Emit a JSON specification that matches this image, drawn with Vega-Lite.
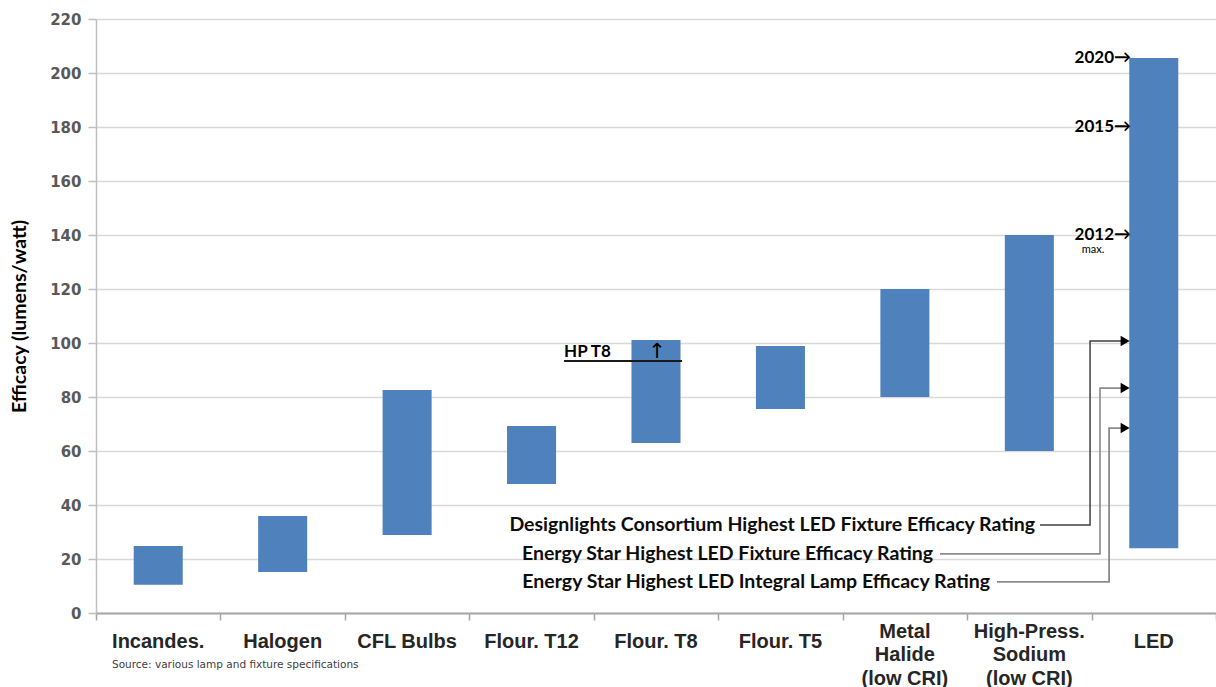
{
  "$schema": "https://vega.github.io/schema/vega-lite/v6.json",
  "width": 1120,
  "height": 594,
  "autosize": "none",
  "padding": {"left": 96, "top": 19, "right": 0, "bottom": 74},
  "background": "white",
  "config": {"view": {"stroke": null}},
  "title": {
    "text": "Source: various lamp and fixture specifications",
    "orient": "bottom",
    "anchor": "start",
    "frame": "group",
    "offset": -28,
    "dx": 16,
    "font": "DejaVu Sans",
    "fontSize": 10.5,
    "fontWeight": "normal",
    "color": "#404040"
  },
  "datasets": {
    "bars": [
      {"lamp": "Incandes.", "low": 10.5, "high": 24.8},
      {"lamp": "Halogen", "low": 15.2, "high": 35.9},
      {"lamp": "CFL Bulbs", "low": 28.9, "high": 82.6},
      {"lamp": "Flour. T12", "low": 47.8, "high": 69.3},
      {"lamp": "Flour. T8", "low": 63, "high": 101.1},
      {"lamp": "Flour. T5", "low": 75.6, "high": 98.9},
      {"lamp": "Metal Halide (low CRI)", "low": 80, "high": 120},
      {"lamp": "High-Press. Sodium (low CRI)", "low": 60, "high": 140},
      {"lamp": "LED", "low": 24, "high": 205.6}
    ],
    "connectors": [
      {"id": "dl", "seq": 1, "x": 7.586, "y": 32.6},
      {"id": "dl", "seq": 2, "x": 7.988, "y": 32.6},
      {"id": "dl", "seq": 3, "x": 7.988, "y": 100.7},
      {"id": "dl", "seq": 4, "x": 8.25, "y": 100.7},
      {"id": "esf", "seq": 1, "x": 6.782, "y": 21.9},
      {"id": "esf", "seq": 2, "x": 8.068, "y": 21.9},
      {"id": "esf", "seq": 3, "x": 8.068, "y": 83.3},
      {"id": "esf", "seq": 4, "x": 8.25, "y": 83.3},
      {"id": "esi", "seq": 1, "x": 7.24, "y": 11.5},
      {"id": "esi", "seq": 2, "x": 8.141, "y": 11.5},
      {"id": "esi", "seq": 3, "x": 8.141, "y": 68.5},
      {"id": "esi", "seq": 4, "x": 8.25, "y": 68.5},
      {"id": "hp", "seq": 1, "x": 3.761, "y": 93.3},
      {"id": "hp", "seq": 2, "x": 4.709, "y": 93.3}
    ],
    "heads": [
      {"x": 8.27, "y": 100.7},
      {"x": 8.27, "y": 83.3},
      {"x": 8.27, "y": 68.5}
    ],
    "notes": [
      {"t": "Designlights Consortium Highest LED Fixture Efficacy Rating", "x": 7.546, "y": 32.6},
      {"t": "Energy Star Highest LED Fixture Efficacy Rating", "x": 6.726, "y": 21.9},
      {"t": "Energy Star Highest LED Integral Lamp Efficacy Rating", "x": 7.184, "y": 11.5}
    ],
    "years": [
      {"t": "2020→", "x": 8.317, "y": 205.6},
      {"t": "2015→", "x": 8.317, "y": 180},
      {"t": "2012→", "x": 8.317, "y": 140}
    ],
    "small": [
      {"t": "max.", "x": 8.012, "y": 134.4}
    ],
    "hplabel": [
      {"t": "HP T8", "x": 3.761, "y": 93.3}
    ],
    "uparrow": [
      {"t": "↑", "x": 4.508, "y": 96.5}
    ]
  },
  "layer": [
    {
      "data": {"name": "bars"},
      "mark": {"type": "bar", "color": "#4f81bd"},
      "encoding": {
        "x": {
          "field": "lamp",
          "type": "nominal",
          "sort": null,
          "scale": {"paddingInner": 0.606, "paddingOuter": 0.303},
          "axis": {
            "orient": "bottom",
            "title": null,
            "ticks": false,
            "tickSize": 0,
            "domain": false,
            "grid": false,
            "labelAngle": 0,
            "labelPadding": {"condition": {"test": "datum.value == 'Metal Halide (low CRI)' || datum.value == 'High-Press. Sodium (low CRI)'", "value": 18}, "value": 28},
            "labelBaseline": "middle",
            "labelFont": "Liberation Sans",
            "labelFontSize": 20,
            "labelFontWeight": "bold",
            "labelColor": "#262626",
            "labelLineHeight": 23.5,
            "labelLimit": 200,
            "labelExpr": "datum.label == 'Metal Halide (low CRI)' ? ['Metal', 'Halide', '(low CRI)'] : datum.label == 'High-Press. Sodium (low CRI)' ? ['High-Press.', 'Sodium', '(low CRI)'] : datum.label"
          }
        },
        "y": {
          "field": "low",
          "type": "quantitative",
          "scale": {"domain": [0, 220], "nice": false},
          "axis": {
            "title": "Efficacy (lumens/watt)",
            "titleFont": "Lato",
            "titleFontSize": 19.5,
            "titleFontWeight": "bold",
            "titleColor": "#000000",
            "titlePadding": 20,
            "values": [0, 20, 40, 60, 80, 100, 120, 140, 160, 180, 200, 220],
            "grid": true,
            "gridColor": "#d9d9d9",
            "gridWidth": 1.5,
            "domainColor": "#bfbfbf",
            "domainWidth": 1.5,
            "tickColor": "#bfbfbf",
            "tickSize": 8,
            "tickWidth": 1.5,
            "labelPadding": 7,
            "labelFont": "DejaVu Sans",
            "labelFontSize": 15,
            "labelFontWeight": "bold",
            "labelColor": "#595959"
          }
        },
        "y2": {"field": "high"}
      }
    },
    {
      "layer": [
        {
          "data": {"name": "connectors"},
          "mark": {"type": "line", "interpolate": "linear"},
          "encoding": {
            "x": {
              "field": "x",
              "type": "quantitative",
              "scale": {"domain": [0, 9], "nice": false, "zero": false},
              "axis": {
                "orient": "bottom",
                "title": null,
                "values": [0, 1, 2, 3, 4, 5, 6, 7, 8, 9],
                "labels": false,
                "grid": false,
                "ticks": true,
                "tickSize": 7,
                "tickWidth": 1.5,
                "tickColor": "#a6a6a6",
                "domain": true,
                "domainColor": "#a6a6a6",
                "domainWidth": 2
              }
            },
            "y": {"field": "y", "type": "quantitative"},
            "order": {"field": "seq"},
            "color": {
              "field": "id",
              "type": "nominal",
              "scale": {"domain": ["dl", "esf", "esi", "hp"], "range": ["#404040", "#8c8c8c", "#8c8c8c", "#1a1a1a"]},
              "legend": null
            },
            "strokeWidth": {
              "field": "id",
              "type": "nominal",
              "scale": {"domain": ["dl", "esf", "esi", "hp"], "range": [1.5, 2, 2, 2]},
              "legend": null
            }
          }
        },
        {
          "data": {"name": "heads"},
          "mark": {"type": "point", "shape": "triangle-right", "filled": true, "color": "#000000", "size": 110, "opacity": 1},
          "encoding": {
            "x": {"field": "x", "type": "quantitative"},
            "y": {"field": "y", "type": "quantitative"}
          }
        },
        {
          "data": {"name": "notes"},
          "mark": {"type": "text", "align": "right", "baseline": "middle", "font": "Lato", "fontSize": 19.5, "fontWeight": "bold", "color": "#0d0d0d"},
          "encoding": {
            "x": {"field": "x", "type": "quantitative"},
            "y": {"field": "y", "type": "quantitative"},
            "text": {"field": "t"}
          }
        },
        {
          "data": {"name": "years"},
          "mark": {"type": "text", "align": "right", "baseline": "middle", "font": "Lato", "fontSize": 17, "fontWeight": "bold", "color": "#000000"},
          "encoding": {
            "x": {"field": "x", "type": "quantitative"},
            "y": {"field": "y", "type": "quantitative"},
            "text": {"field": "t"}
          }
        },
        {
          "data": {"name": "small"},
          "mark": {"type": "text", "align": "center", "baseline": "middle", "font": "Lato", "fontSize": 11, "color": "#000000"},
          "encoding": {
            "x": {"field": "x", "type": "quantitative"},
            "y": {"field": "y", "type": "quantitative"},
            "text": {"field": "t"}
          }
        },
        {
          "data": {"name": "hplabel"},
          "mark": {"type": "text", "align": "left", "baseline": "alphabetic", "dy": -4, "font": "Lato", "fontSize": 17, "fontWeight": "bold", "color": "#000000"},
          "encoding": {
            "x": {"field": "x", "type": "quantitative"},
            "y": {"field": "y", "type": "quantitative"},
            "text": {"field": "t"}
          }
        },
        {
          "data": {"name": "uparrow"},
          "mark": {"type": "text", "align": "center", "baseline": "middle", "font": "DejaVu Sans", "fontSize": 21, "color": "#000000"},
          "encoding": {
            "x": {"field": "x", "type": "quantitative"},
            "y": {"field": "y", "type": "quantitative"},
            "text": {"field": "t"}
          }
        }
      ]
    }
  ],
  "resolve": {"scale": {"x": "independent"}}
}
